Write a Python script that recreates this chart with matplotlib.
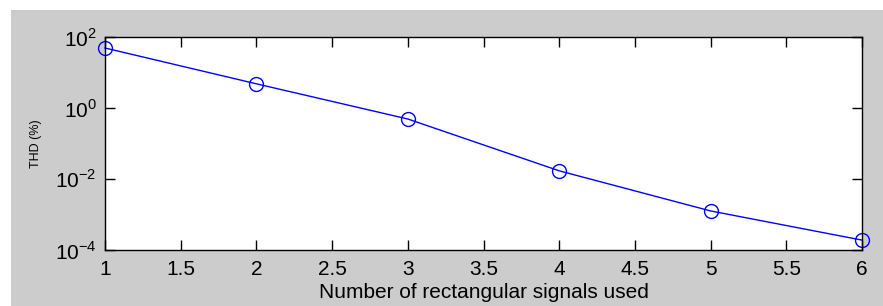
import numpy as np
import matplotlib.pyplot as plt
from matplotlib.patches import Rectangle
from matplotlib.ticker import NullLocator, FixedLocator

plt.rcParams['font.family'] = ['Liberation Sans', 'DejaVu Sans']
plt.rcParams['mathtext.fontset'] = 'custom'
plt.rcParams['mathtext.rm'] = 'Liberation Sans'

# data
n_signals = [1, 2, 3, 4, 5, 6]
thd = [49, 4.8, 0.49, 0.017, 0.00126, 0.00019]
x_ticks = [1, 1.5, 2, 2.5, 3, 3.5, 4, 4.5, 5, 5.5, 6]
y_ticks = [1e-4, 1e-2, 1e0, 1e2]

W, H = 883, 306
fig = plt.figure(figsize=(W/100, H/100), dpi=100, facecolor='white')
# gray panel behind the axes (white margin on top/left)
fig.patches.append(Rectangle((11/W, 0), 1 - 11/W, 1 - 10/H, transform=fig.transFigure,
                             facecolor='#cccccc', edgecolor='none', zorder=-1))

ax = fig.add_axes([105/W, 1 - 250/H, (862-105)/W, (250-37)/H])
ax.plot(n_signals, thd, color='#0000ff', lw=1.0, marker='o', ms=10,
        mfc='none', mec='#0000ff', mew=1.0, clip_on=False)
ax.set_yscale('log')
ax.set_xlim(1, 6)
ax.set_ylim(1e-4, 1e2)
ax.xaxis.set_major_locator(FixedLocator(x_ticks))
ax.set_xticklabels(['1', '1.5', '2', '2.5', '3', '3.5', '4', '4.5', '5', '5.5', '6'])
ax.yaxis.set_major_locator(FixedLocator(y_ticks))
ax.yaxis.set_minor_locator(NullLocator())
ax.set_yticklabels([r'$10^{-4}$', r'$10^{-2}$', r'$10^{0}$', r'$10^{2}$'])
ax.tick_params(direction='in', top=True, right=True, length=7, width=1,
               labelsize=15, colors='black')
ax.tick_params(axis='x', pad=7)
ax.tick_params(axis='y', pad=6)
for s in ax.spines.values():
    s.set_linewidth(1.0)
ax.set_xlabel('Number of rectangular signals used', fontsize=15, labelpad=3)
ax.set_ylabel('THD (%)', fontsize=9, labelpad=9)

fig.savefig('out.png', dpi=100, facecolor=fig.get_facecolor())
